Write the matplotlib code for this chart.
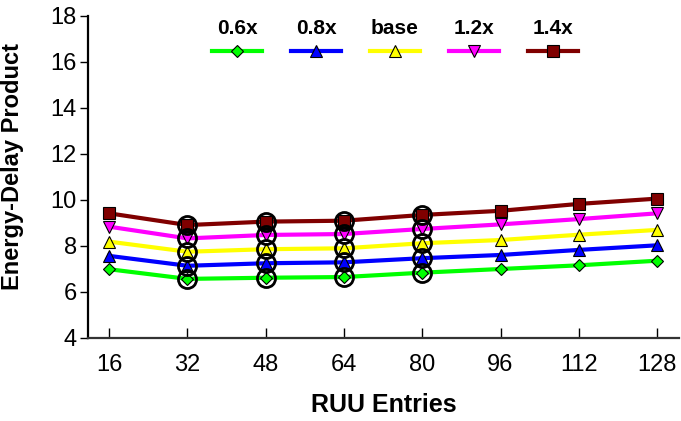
import matplotlib
matplotlib.use('Agg')
import matplotlib.pyplot as plt

plt.rcParams['font.family'] = ['Liberation Sans', 'DejaVu Sans']

# data
entries = ['16', '32', '48', '64', '80', '96', '112', '128']
edp_06 = [6.99, 6.57, 6.62, 6.65, 6.84, 7.00, 7.16, 7.36]
edp_08 = [7.57, 7.14, 7.25, 7.29, 7.47, 7.61, 7.83, 8.03]
edp_base = [8.19, 7.75, 7.86, 7.90, 8.12, 8.26, 8.49, 8.70]
edp_12 = [8.84, 8.33, 8.48, 8.52, 8.74, 8.94, 9.17, 9.42]
edp_14 = [9.42, 8.91, 9.06, 9.10, 9.35, 9.53, 9.83, 10.06]
labels = ['0.6x', '0.8x', 'base', '1.2x', '1.4x']
circled = ['32', '48', '64', '80']

series = [edp_06, edp_08, edp_base, edp_12, edp_14]
colors = ['#00ff00', '#0000ff', '#ffff00', '#ff00ff', '#800000']
markers = ['D', '^', '^', 'v', 's']
msizes = [6, 8, 8, 8, 8]

fig = plt.figure(figsize=(6.81, 4.21), dpi=100)
ax = fig.add_axes([88 / 681, 1 - 338 / 421, (679 - 88) / 681, (338 - 16) / 421])

x = list(range(len(entries)))
for ys, c, m, ms in zip(series, colors, markers, msizes):
    ax.plot(x, ys, color=c, lw=3, marker=m, ms=ms, mfc=c, mec='black',
            mew=0.8, zorder=3)

# open circles marking the highlighted points
ci = [entries.index(e) for e in circled]
for ys in series:
    ax.plot(ci, [ys[i] for i in ci], ls='none', marker='o', ms=13,
            mfc='none', mec='black', mew=2, zorder=4)

ax.set_xlim(-0.27, 7.28)
ax.set_ylim(4, 18)
ax.set_xticks(x)
ax.set_xticklabels(entries)
ax.set_yticks(range(4, 19, 2))
ax.tick_params(axis='y', direction='out', length=6, width=1, labelsize=17, pad=2)
ax.tick_params(axis='x', direction='in', length=7, width=1, labelsize=17, pad=11.5)
for s in ['top', 'right']:
    ax.spines[s].set_visible(False)
ax.spines['bottom'].set_linewidth(1.6)
ax.spines['left'].set_linewidth(1.6)
ax.spines['bottom'].set_color('#333333')

ax.set_xlabel('RUU Entries', fontsize=18, fontweight='bold', labelpad=12)
ax.set_ylabel('Energy-Delay Product', fontsize=17, fontweight='bold')
ax.yaxis.set_label_coords(-0.108, 0.533)

# legend with labels above the keys
lx = [237, 316, 395, 474, 553]
for px, lab, c, m, ms in zip(lx, labels, colors, markers, msizes):
    fx = px / 681
    fig.text(fx, 1 - 28 / 421, lab, ha='center', va='center',
             fontsize=15, fontweight='bold')
    fig.lines.append(plt.Line2D([fx - 25 / 681, fx + 25 / 681],
                                [1 - 51 / 421] * 2, transform=fig.transFigure,
                                color=c, lw=3))
    fig.lines.append(plt.Line2D([fx], [1 - 51 / 421], transform=fig.transFigure,
                                marker=m, ms=ms, mfc=c, mec='black', mew=0.8,
                                ls='none'))

fig.savefig('out.png', dpi=100)
